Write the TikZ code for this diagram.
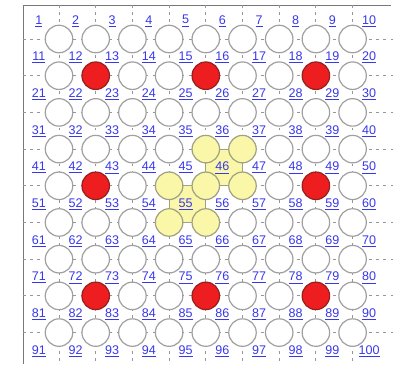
\documentclass[tikz,border=0pt]{standalone}
\usepackage{fontspec}
\setmainfont{Liberation Sans}
\usepackage{color}
\definecolor{hole-gray}{RGB}{160,160,160}
\definecolor{frame-gray}{RGB}{120,120,120}
\definecolor{guide-gray}{RGB}{150,150,150}
\definecolor{hole-red}{RGB}{238,30,32}
\definecolor{dark-red}{RGB}{150,30,30}
\definecolor{light-yellow}{RGB}{250,247,168}
\definecolor{yellow-gray}{RGB}{160,160,130}
\definecolor{link-blue}{RGB}{55,55,235}
\usepackage{tikz}

\begin{document}
\begin{tikzpicture}
[
  x=27.5pt, y=27.5pt,
  hole/.style={circle,draw=hole-gray,fill=white,line width=0.9pt,minimum size=20.6pt,inner sep=0pt},
  redhole/.style={fill=hole-red,draw=dark-red},
  yellowhole/.style={fill=light-yellow,draw=yellow-gray},
  cell/.style={fill=light-yellow,draw=yellow-gray,line width=0.8pt},
  guide/.style={guide-gray,line width=0.6pt,dash pattern=on 2.2pt off 3.2pt},
  num/.style={text=link-blue,font=\fontsize{9.4}{10}\selectfont,inner sep=0pt},
  p11/.style={redhole}, p14/.style={redhole}, p17/.style={redhole},
  p41/.style={redhole}, p47/.style={redhole},
  p71/.style={redhole}, p74/.style={redhole}, p77/.style={redhole},
  p34/.style={yellowhole}, p35/.style={yellowhole},
  p43/.style={yellowhole}, p44/.style={yellowhole}, p45/.style={yellowhole},
  p53/.style={yellowhole}, p54/.style={yellowhole},
]
\useasboundingbox (-1.608,1.063) rectangle (9.101,-8.856);
% frame
\draw[frame-gray,line width=0.7pt] (9.05,0.926) -- (-0.981,0.926) -- (-0.981,-8.856);
% dashed guides through the holes
\foreach \k in {0,...,8} {
  \draw[guide] (\k,0.926) -- (\k,-8.856);
  \draw[guide] (-0.981,-\k) -- (9.101,-\k);
}
% yellow cells
\draw[cell] (4,-3) rectangle (5,-4);
\draw[cell] (3,-4) rectangle (4,-5);
% holes
\foreach \r in {0,...,8}
  \foreach \c in {0,...,8}
    \node[hole,p\r\c/.try] (c\r\c) at (\c,-\r) {};
% point numbers
\foreach \i in {0,...,9}
  \foreach \j in {0,...,9} {
    \pgfmathtruncatemacro{\k}{10*\i+\j+1}
    \node[num] (n\k) at (\j-0.55,0.49-\i) {\underline{\k}};
  }
\end{tikzpicture}
\end{document}
